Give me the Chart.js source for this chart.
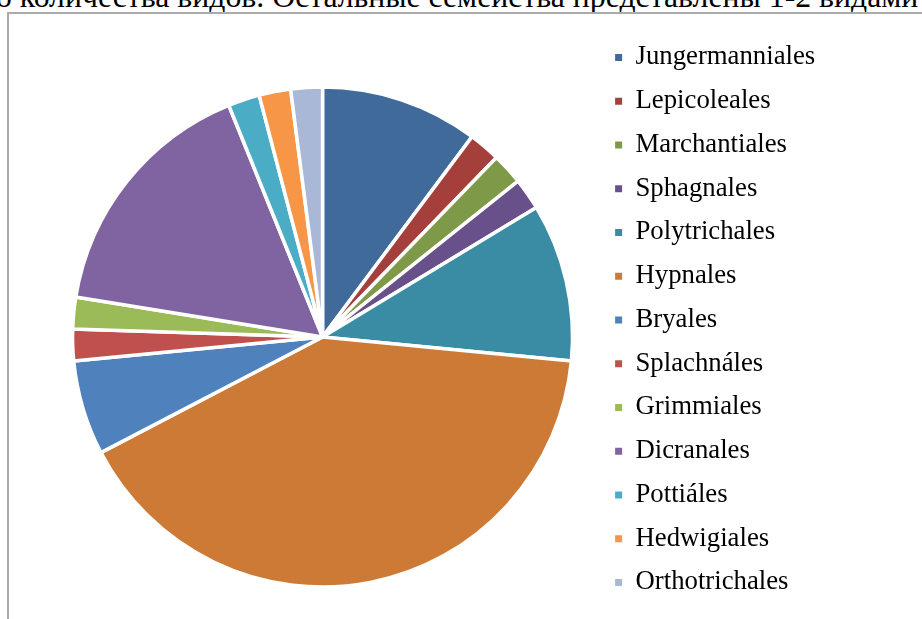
<!DOCTYPE html>
<html>
<head>
<meta charset="utf-8">
<script src="https://cdn.jsdelivr.net/npm/chart.js@4"></script>
<style>
  html, body { margin: 0; padding: 0; width: 922px; height: 619px; overflow: hidden; background: #fff; }
  #caption { position: absolute; left: -4px; top: -19px; font-family: 'Liberation Serif', 'Times New Roman', serif; font-size: 31.75px; line-height: 1; white-space: nowrap; color: #000; }
  #frame { position: absolute; left: 7px; top: 12px; width: 2000px; height: 2000px; border-left: 2px solid #ababab; border-top: 2px solid #ababab; }
  #wrap { position: absolute; left: 0; top: 0; width: 922px; height: 680px; }
</style>
</head>
<body>
<div id="caption">о количества видов. Остальные семейства представлены 1-2 видами</div>
<div id="frame"></div>
<div id="wrap"><canvas id="c" width="922" height="680"></canvas></div>
<script>
const categories = ["Jungermanniales", "Lepicoleales", "Marchantiales", "Sphagnales", "Polytrichales", "Hypnales", "Bryales", "Splachnáles", "Grimmiales", "Dicranales", "Pottiáles", "Hedwigiales", "Orthotrichales"];
const speciesCounts = [5, 1, 1, 1, 5, 20, 3, 1, 1, 8, 1, 1, 1];
const sliceColors = ["#3F6A9A", "#A43F3C", "#7E9A48", "#68518A", "#398CA3", "#CD7A37", "#4F81BD", "#C0504D", "#9BBB59", "#8064A2", "#4BACC6", "#F79646", "#A9B8D7"];

new Chart(document.getElementById('c'), {
  type: 'pie',
  data: {
    labels: categories,
    datasets: [{
      data: speciesCounts,
      backgroundColor: sliceColors,
      borderColor: '#ffffff',
      borderWidth: 3.5,
      radius: 250
    }]
  },
  options: {
    responsive: false,
    animation: false,
    layout: { padding: { top: 27, bottom: 33, left: 47, right: 96.75 } },
    plugins: {
      tooltip: { enabled: false },
      legend: {
        position: 'right',
        align: 'start',
        labels: {
          boxWidth: 7,
          boxHeight: 7,
          padding: 17,
          color: '#000',
          font: { family: "'Liberation Serif', 'Times New Roman', serif", size: 26.75 },
          generateLabels: function (chart) {
            const items = Chart.overrides.pie.plugins.legend.labels.generateLabels(chart);
            items.forEach(function (it) { it.lineWidth = 0; it.strokeStyle = 'rgba(0,0,0,0)'; });
            return items;
          }
        }
      }
    }
  }
});
</script>
</body>
</html>
